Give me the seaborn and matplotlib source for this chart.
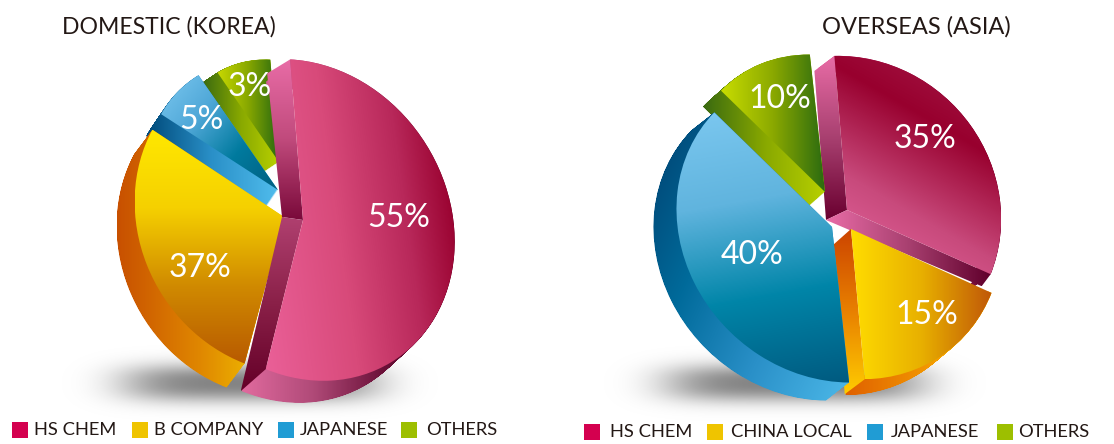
import matplotlib
matplotlib.use("Agg")
import matplotlib.pyplot as plt
import seaborn as sns
import numpy as np
import pandas as pd
from matplotlib.colors import LinearSegmentedColormap
from matplotlib.patches import Wedge
from matplotlib.path import Path
from matplotlib.transforms import Affine2D

# printed percentages
domestic_names = ["HS CHEM", "B COMPANY", "JAPANESE", "OTHERS"]
domestic_labels = [55, 37, 5, 3]
overseas_names = ["HS CHEM", "CHINA LOCAL", "JAPANESE", "OTHERS"]
overseas_labels = [35, 15, 40, 10]

# slice sizes as drawn in the picture (the artwork is not proportional to its labels)
domestic_drawn = [55.3, 28.6, 7.2, 8.9]
overseas_drawn = [32.2, 17.8, 38.1, 11.9]

legend_colors = ["#d4004f", "#efc400", "#209cd4", "#9dbf00"]

W, H = 1114, 444
sns.set_theme(style="white")
plt.rcParams["font.family"] = ["Lato", "DejaVu Sans"]

fig = plt.figure(figsize=(W / 100, H / 100), dpi=100)
ax = fig.add_axes([0, 0, 1, 1])


def gradient(path, stops, angle):
    box = path.get_extents()
    nx = max(int(box.width), 2)
    ny = max(int(box.height), 2)
    xx, yy = np.meshgrid(np.linspace(box.x0, box.x1, nx), np.linspace(box.y0, box.y1, ny))
    ca, sa = np.cos(np.radians(angle)), np.sin(np.radians(angle))
    t = xx * ca + yy * sa
    t = (t - t.min()) / (t.max() - t.min())
    cmap = LinearSegmentedColormap.from_list("g", stops)
    im = ax.imshow(t, extent=(box.x0, box.x1, box.y0, box.y1), origin="lower", cmap=cmap,
                   vmin=0, vmax=1, aspect="auto", interpolation="bilinear")
    im.set_clip_path(path, ax.transData)


def sweep(path, dx, dy, steps=40):
    copies = [Affine2D().translate(dx * k / steps, dy * k / steps).transform_path(path)
              for k in range(steps + 1)]
    return Path.make_compound_path(*copies)


def shadow(cx, cy, rx, ry):
    xs = np.linspace(-1.5, 1.5, 300)
    ys = np.linspace(-2.2, 2.2, 120)
    xx, yy = np.meshgrid(xs, ys)
    alpha = np.exp(-((xx ** 2) ** 2.2 + (yy ** 2) ** 1.2))
    rgba = np.zeros(xx.shape + (4,))
    rgba[..., :3] = 0.52
    rgba[..., 3] = alpha
    ax.imshow(rgba, extent=(cx - 1.5 * rx, cx + 1.5 * rx, H - cy - 2.2 * ry, H - cy + 2.2 * ry),
              origin="lower", aspect="auto", interpolation="bilinear")


def draw_pie(sizes, start, specs):
    wedges, _ = ax.pie(sizes, startangle=start, counterclock=False, radius=1)
    items = list(zip(wedges, specs))
    items.sort(key=lambda p: p[1]["order"])
    for w, s in items:
        w.set_visible(False)
        cx, cy = s["c"][0], H - s["c"][1]
        dx, dy = s["d"][0], -s["d"][1]
        # the artwork's disc is a slightly tilted ellipse, long along the upper-left diagonal
        tilt = (Affine2D().translate(-cx, -cy).rotate_deg(-135)
                .scale(s["s"], 1 / s["s"]).rotate_deg(135)
                .scale(1, s.get("vy", 1)).translate(cx, cy))
        edges = s.get("edges", [])
        if edges:
            rim = Wedge((cx, cy), s["r"], w.theta1, w.theta2, width=4).get_path()
            rim = tilt.transform_path(Path(rim.vertices.copy(), rim.codes))
            gradient(sweep(rim, dx, dy), s["side"][0], s["side"][1])
        else:
            full = Wedge((cx, cy), s["r"], w.theta1, w.theta2).get_path()
            full = tilt.transform_path(Path(full.vertices.copy(), full.codes))
            gradient(sweep(full, dx, dy), s["side"][0], s["side"][1])
        for which, apex_off, end_off, stops, ang in edges:
            th = w.theta1 if which == "lo" else w.theta2
            ex = cx + s["r"] * np.cos(np.radians(th))
            ey = cy + s["r"] * np.sin(np.radians(th))
            ex, ey = tilt.transform((ex, ey))
            band = Path([(cx, cy), (ex, ey), (ex + end_off[0], ey - end_off[1]),
                         (cx + apex_off[0], cy - apex_off[1]), (cx, cy)])
            gradient(band, stops, ang)
        face = Wedge((cx, cy), s["r"], w.theta1, w.theta2).get_path()
        face = tilt.transform_path(Path(face.vertices.copy(), face.codes))
        gradient(face, s["face"][0], s["face"][1])


shadow(250, 383, 128, 19)
shadow(795, 383, 130, 19)

draw_pie(domestic_drawn, 91, [
    dict(order=3, c=(303, 220), r=151, s=1.07, vy=1.06, d=(-24, 22),
         face=([(0, "#ea6098"), (0.4, "#d84a7a"), (0.7, "#b8285a"), (0.92, "#98002e"), (1, "#a00835")], 8),
         side=(["#e06a9e", "#b04a78", "#6a1038", "#500020"], 0),
         edges=[("hi", (-21, -3), (-23, 14), ["#7a0a3a", "#c04a7c", "#e86ca6"], 90),
                ("lo", (-21, -3), (-25, 22), ["#640028", "#8a2048", "#b04070"], 90)]),
    dict(order=2, c=(284, 217), r=149, s=1.05, vy=1.05, d=(-18, 24),
         face=(["#b85a00", "#d08a00", "#f5d000", "#ffe800"], 90),
         side=(["#c85000", "#e08800", "#f5d000"], 0)),
    dict(order=1, c=(278, 190), r=130, s=1.08, d=(-15, 22),
         face=(["#7cc8f0", "#50a8d8", "#007a9e", "#005f80"], -40),
         side=(["#004a7a", "#2a90c8", "#50bcec"], 0)),
    dict(order=0, c=(279, 162), r=102, s=1.07, d=(-15, 10),
         face=(["#c8d800", "#88a800", "#2a6a10"], 0),
         side=(["#3a6a10", "#88a800", "#b8d000"], 0)),
])

draw_pie(overseas_drawn, 93, [
    dict(order=0, c=(847, 210), r=154, s=1.03, d=(-16, 12),
         face=(["#ea6aa5", "#c84a7c", "#98002e", "#a8204f"], 60),
         side=(["#ea6aa5", "#68002c"], 0),
         edges=[("hi", (-21, 10), (-20, 15), ["#6a0030", "#a84070", "#e86ca6"], 90),
                ("lo", (-21, 10), (-9, 12), ["#e86ca6", "#a84070", "#60002c"], 0)]),
    dict(order=2, c=(851, 229), r=150, s=1.04, d=(-19, 16),
         face=(["#ffdc00", "#e8b000", "#c05808"], 0),
         side=(["#e06000", "#f09000", "#ffcc00"], 0),
         edges=[("lo", (-18, 16), (-20, 15), ["#ffcc00", "#e88000", "#cc4400"], 90)]),
    dict(order=3, c=(832, 227), r=155, s=1.06, d=(-23, 18),
         face=(["#7cc8f0", "#60b4de", "#0085a8", "#005a80"], -80),
         side=(["#00406f", "#006a9a", "#2a90c8", "#4cb8e8"], -25)),
    dict(order=1, c=(825, 192), r=137, s=1.06, d=(-18, 16),
         face=(["#c8dc00", "#8aa800", "#2a6a10"], 0),
         side=(["#3a6a10", "#88a800", "#b8d000"], 0)),
])

# percent labels
label_pos = [(399, 218), (200, 268), (201, 120), (250, 87)]
for v, (x, y) in zip(domestic_labels, label_pos):
    ax.text(x, H - y, f"{v}%", color="white", fontsize=23, ha="center", va="center")
label_pos = [(925, 139), (927, 315), (752, 255), (780, 99)]
for v, (x, y) in zip(overseas_labels, label_pos):
    ax.text(x, H - y, f"{v}%", color="white", fontsize=23, ha="center", va="center")

# titles
ax.text(62, H - 27, "DOMESTIC (KOREA)", color="#231815", fontsize=16.6, ha="left", va="center")
ax.text(822, H - 27, "OVERSEAS (ASIA)", color="#231815", fontsize=17, ha="left", va="center")

# legends
left = pd.DataFrame({"name": domestic_names, "x": [20, 140, 286, 409], "y": [H - 430] * 4,
                     "tx": [34, 154, 300, 426]})
right = pd.DataFrame({"name": overseas_names, "x": [592, 715, 875, 1005], "y": [H - 432] * 4,
                      "tx": [610, 731, 891, 1018]})
for df in (left, right):
    sns.scatterplot(data=df, x="x", y="y", hue="name", palette=legend_colors, marker="s",
                    s=135, linewidth=0, legend=False, ax=ax)
    for _, row in df.iterrows():
        ax.text(row["tx"], row["y"], row["name"], color="#231815", fontsize=13.2,
                ha="left", va="center")

ax.set_xlim(0, W)
ax.set_ylim(0, H)
ax.set_aspect("auto")
ax.axis("off")
fig.savefig("out.png", dpi=100)
